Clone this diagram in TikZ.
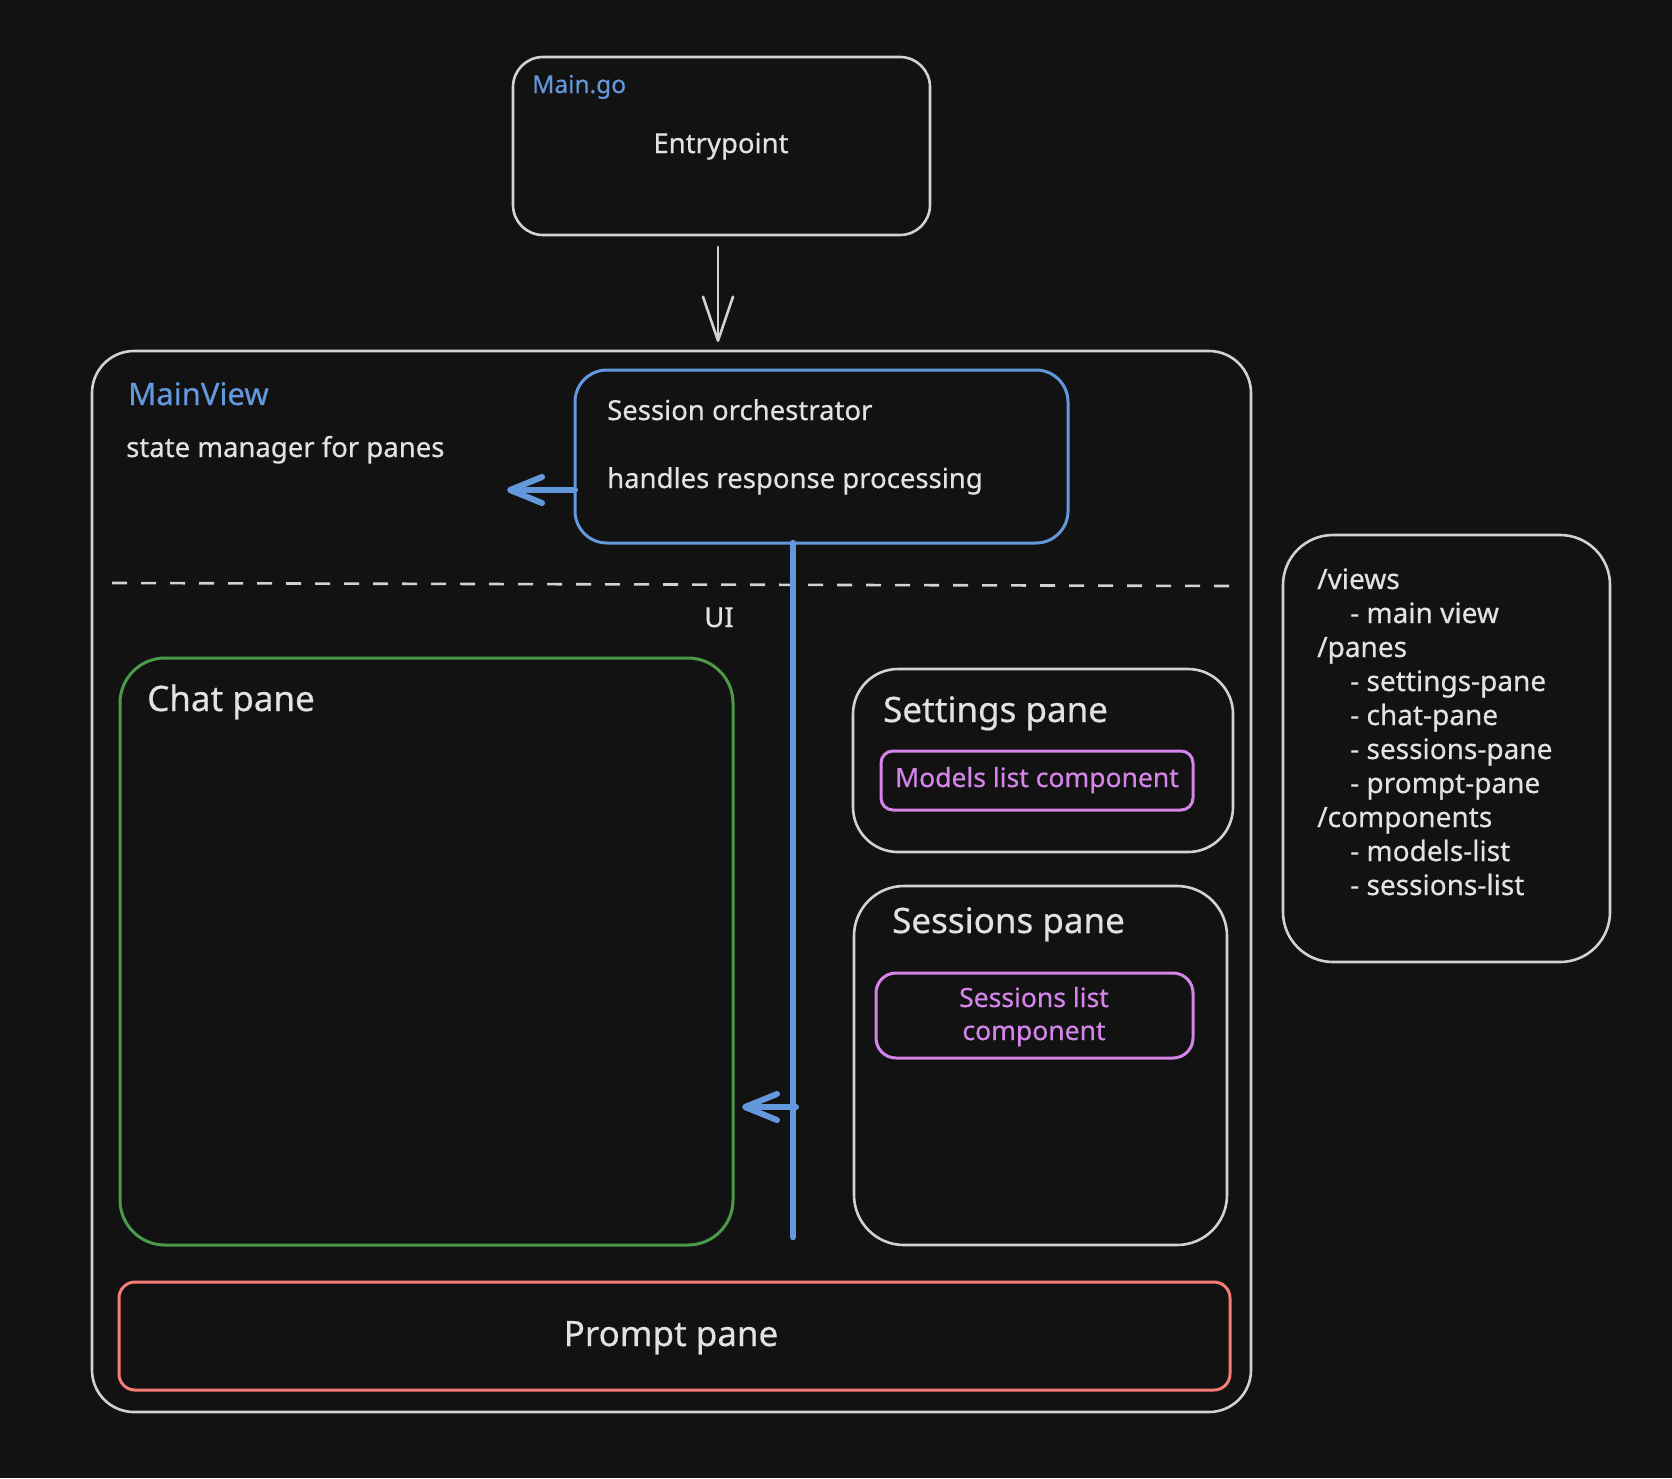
\documentclass[tikz,border=0pt]{standalone}
\usepackage{fontspec}
\setmainfont{Noto Sans}[FakeBold=0.5]
\usetikzlibrary{arrows.meta}
\definecolor{bgc}{HTML}{121212}
\definecolor{gline}{HTML}{D2D2D2}
\definecolor{gtext}{HTML}{E2E2E2}
\definecolor{bluec}{RGB}{99,152,220}
\definecolor{greenc}{RGB}{76,154,72}
\definecolor{violetc}{RGB}{213,132,234}
\definecolor{redc}{RGB}{244,125,118}
\tikzset{
  box/.style={draw=gline, line width=2.6pt, inner sep=0pt, outer sep=0pt, fill=bgc},
  txt/.style={text=gtext, inner sep=0pt, font=\fontsize{27.5}{33}\selectfont},
  bigtxt/.style={text=gtext, inner sep=0pt, font=\fontsize{35}{42}\selectfont},
  listtxt/.style={text=gtext, inner sep=0pt, anchor=base west, font=\fontsize{28}{34}\selectfont},
  comptxt/.style={text=violetc, inner sep=0pt, anchor=base, font=\fontsize{26.5}{32}\selectfont},
  graylink/.style={draw=gline, line width=2.6pt, line cap=round, -{Straight Barb[length=44pt,width=30pt,round]}},
  bluelink/.style={draw=bluec, line width=6pt, line cap=round, -{Straight Barb[length=32pt,width=26pt,round]}},
  bluebus/.style={draw=bluec, line width=6.5pt, line cap=round},
  dashline/.style={draw=gline, line width=2.6pt, dash pattern=on 15pt off 14pt},
}
\begin{document}
\begin{tikzpicture}[x=1pt,y=-1pt]
\useasboundingbox[fill=bgc] (0,0) rectangle (1672,1478);

% Main.go
\node[box, rounded corners=30pt, minimum width=417pt, minimum height=178pt] (main) at (721.5,146) {};
\node[txt, text=bluec, anchor=base west, font=\fontsize{24.5}{30}\selectfont] (maingo) at (532,93) {Main.go};
\node[txt, anchor=base] (entry) at (721,153) {Entrypoint};

% MainView container
\node[box, rounded corners=42pt, minimum width=1159pt, minimum height=1061pt] (mainview) at (671.5,881.5) {};
\node[txt, text=bluec, anchor=base west, font=\fontsize{31}{38}\selectfont] (mvtitle) at (128,405) {MainView};
\node[txt, anchor=base west] (mvdesc) at (126,457) {state manager for panes};

% Files box
\node[box, rounded corners=50pt, minimum width=327pt, minimum height=427pt] (files) at (1446.5,748.5) {};
\node[listtxt] (f1) at (1317,589) {/views};
\node[listtxt] (f2) at (1350,623) {- main view};
\node[listtxt] (f3) at (1317,657) {/panes};
\node[listtxt] (f4) at (1350,691) {- settings-pane};
\node[listtxt] (f5) at (1350,725) {- chat-pane};
\node[listtxt] (f6) at (1350,759) {- sessions-pane};
\node[listtxt] (f7) at (1350,793) {- prompt-pane};
\node[listtxt] (f8) at (1317,827) {/components};
\node[listtxt] (f9) at (1350,861) {- models-list};
\node[listtxt] (f10) at (1350,895) {- sessions-list};

% dashed separator
\coordinate (dl) at (112,583);
\coordinate (dr) at (1232,586);
\draw[dashline] (dl) -- (dr);
\node[txt, anchor=base] (ui) at (719,627) {UI};

% Chat pane
\node[box, draw=greenc, line width=3pt, rounded corners=45pt, minimum width=613pt, minimum height=587pt] (chat) at (426.5,951.5) {};
\node[bigtxt, anchor=base west] (chattitle) at (147,711) {Chat pane};

% Settings pane
\node[box, rounded corners=45pt, minimum width=380pt, minimum height=183pt] (settings) at (1043,760.5) {};
\node[bigtxt, anchor=base west] (settitle) at (883,722) {Settings pane};
\node[box, draw=violetc, line width=3pt, rounded corners=12pt, minimum width=312pt, minimum height=59pt] (models) at (1037,780.5) {};
\node[comptxt] (modelstxt) at (1037,787) {Models list component};

% Sessions pane
\node[box, rounded corners=50pt, minimum width=373pt, minimum height=359pt] (sessions) at (1040.5,1065.5) {};
\node[bigtxt, anchor=base west] (sesstitle) at (892,933) {Sessions pane};
\node[box, draw=violetc, line width=3pt, rounded corners=20pt, minimum width=317pt, minimum height=85pt] (slist) at (1034.5,1015.5) {};
\node[comptxt] (slisttxt1) at (1034,1007) {Sessions list};
\node[comptxt] (slisttxt2) at (1034,1040) {component};

% Prompt pane
\node[box, draw=redc, line width=3pt, rounded corners=16pt, minimum width=1111pt, minimum height=108pt] (prompt) at (674.5,1336) {};
\node[bigtxt, anchor=base] (prompttxt) at (671,1346) {Prompt pane};

% Session orchestrator
\node[box, draw=bluec, line width=3pt, rounded corners=32pt, minimum width=493pt, minimum height=173pt] (orch) at (821.5,456.5) {};
\node[txt, anchor=base west] (orch1) at (607,420) {Session orchestrator};
\node[txt, anchor=base west] (orch2) at (607,488) {handles response processing};

% connectors
\coordinate (arrx) at (718,0);
\draw[graylink, shorten <=12pt, shorten >=9pt] (main.south -| arrx) -- (mainview.north -| arrx);
\coordinate (orchL) at (507,490);
\draw[bluelink] (orch.west |- orchL) -- (orchL);
\coordinate (busEnd) at (793,1237);
\draw[bluebus] (orch.south -| busEnd) -- (busEnd);
\coordinate (busJ) at (796,1107);
\draw[bluelink, shorten >=9pt] (busJ) -- (chat.east |- busJ);
\end{tikzpicture}
\end{document}
